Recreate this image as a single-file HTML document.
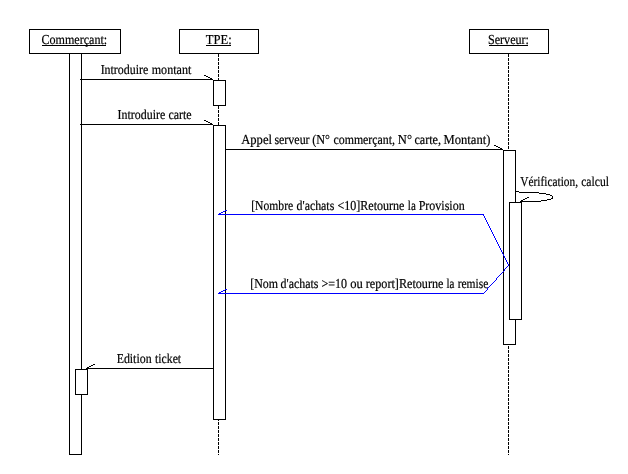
<!DOCTYPE html>
<html lang="fr">
<head>
<meta charset="utf-8">
<title>Diagramme de séquence</title>
<style>
html,body{margin:0;padding:0;background:#fff;}
body{width:628px;height:474px;overflow:hidden;}
svg{display:block;}
text{font-family:"Liberation Serif","Times New Roman",serif;font-size:13.7px;text-rendering:geometricPrecision;fill:#000;stroke:#000;stroke-width:0.2px;}
.k{stroke:#000;stroke-width:1;fill:none;}
.w{stroke:#000;stroke-width:1;fill:#fff;}
.b{stroke:#00f;stroke-width:1;fill:none;}
.d{stroke:#000;stroke-width:1;stroke-dasharray:3 1;fill:none;}
</style>
</head>
<body>
<svg width="628" height="474" viewBox="0 0 628 474">
<rect x="0" y="0" width="628" height="474" fill="#fff"/>
<g shape-rendering="crispEdges">
<!-- lifelines -->
<line class="d" x1="218.5" y1="54" x2="218.5" y2="455"/>
<line class="d" x1="508.5" y1="54" x2="508.5" y2="455"/>
<!-- head boxes -->
<rect class="w" x="29.5" y="29.5" width="91" height="24"/>
<rect class="w" x="179.5" y="29.5" width="79" height="24"/>
<rect class="w" x="469.5" y="29.5" width="79" height="24"/>
<!-- activations -->
<rect class="w" x="69.5" y="53.5" width="12" height="401"/>
<rect class="w" x="75.5" y="369.5" width="12" height="25"/>
<rect class="w" x="213.5" y="80.5" width="12" height="25"/>
<rect class="w" x="213.5" y="125.5" width="12" height="294"/>
<path class="k" d="M515 191.5h4M519 192.5h20M539 193.5h7M546 194.5h4M550 195.5h2M552 196.5h1M552 197.5h1M551 198.5h2M547 199.5h4M541 200.5h6M520 201.5h21"/>
<rect class="w" x="503.5" y="150.5" width="12" height="194"/>
<rect class="w" x="509.5" y="202.5" width="12" height="117"/>
<!-- messages -->
<line class="k" x1="80" y1="79.5" x2="213" y2="79.5"/>
<path class="k" d="M204 75.5h2M206 76.5h2M208 77.5h2M210 78.5h2"/>
<line class="k" x1="80" y1="124.5" x2="213" y2="124.5"/>
<path class="k" d="M204 120.5h2M206 121.5h2M208 122.5h2M210 123.5h2"/>
<line class="k" x1="225" y1="149.5" x2="503" y2="149.5"/>
<path class="k" d="M494 145.5h2M496 146.5h2M498 147.5h2M500 148.5h2"/>
<line class="k" x1="86" y1="368.5" x2="214" y2="368.5"/>
<path class="k" d="M87 367.5h2M89 366.5h2M91 365.5h2M93 364.5h2"/>
<!-- self loop -->
<path class="k" d="M521 200.5h2M523 199.5h2M525 198.5h2M527 197.5h2"/>
<!-- blue returns -->
<path class="b" d="M218 214.5H484M483.5 214v2M484.5 216v2M485.5 218v2M486.5 220v2M487.5 222v2M488.5 224v2M489.5 226v2M490.5 228v2M491.5 230v2M492.5 232v2M493.5 234v2M494.5 236v2M495.5 238v2M496.5 240v2M497.5 242v2M498.5 244v2M499.5 246v2M500.5 248v2M501.5 250v2M502.5 252v2M503.5 254v2M504.5 256v2M505.5 258v2M506.5 260v2M507.5 262v2M508.5 264v2"/>
<path class="b" d="M219 213.5h2M221 212.5h2M223 211.5h2M225 210.5h2"/>
<path class="b" d="M218 293.5H484M508.5 265v1M507.5 266v1M506.5 267v1M505.5 268v1M504.5 269v2M503.5 271v1M502.5 272v1M501.5 273v1M500.5 274v1M499.5 275v1M498.5 276v1M497.5 277v1M496.5 278v2M495.5 280v1M494.5 281v1M493.5 282v1M492.5 283v1M491.5 284v1M490.5 285v1M489.5 286v1M488.5 287v1M487.5 288v2M486.5 290v1M485.5 291v1M484.5 292v1M483.5 293v1"/>
<path class="b" d="M219 292.5h2M221 291.5h2M223 290.5h2M225 289.5h2"/>
</g>
<!-- labels -->
<g id="labels" style="filter:grayscale(1)">
<text x="41.47" y="44" textLength="65.76" lengthAdjust="spacingAndGlyphs">Commerçant:</text>
<text x="205.79" y="44" textLength="25.91" lengthAdjust="spacingAndGlyphs">TPE:</text>
<text x="488.01" y="44" textLength="40.98" lengthAdjust="spacingAndGlyphs">Serveur:</text>
<text x="100.67" y="74" textLength="47.55" lengthAdjust="spacingAndGlyphs">Introduire</text>
<text x="151.74" y="74" textLength="39.55" lengthAdjust="spacingAndGlyphs">montant</text>
<text x="117.57" y="119" textLength="47.65" lengthAdjust="spacingAndGlyphs">Introduire</text>
<text x="168.46" y="119" textLength="23.18" lengthAdjust="spacingAndGlyphs">carte</text>
<text x="241.18" y="144" textLength="30.80" lengthAdjust="spacingAndGlyphs">Appel</text>
<text x="274.38" y="144" textLength="35.23" lengthAdjust="spacingAndGlyphs">serveur</text>
<text x="312.27" y="144" textLength="17.70" lengthAdjust="spacingAndGlyphs">(N°</text>
<text x="333.47" y="144" textLength="61.55" lengthAdjust="spacingAndGlyphs">commerçant,</text>
<text x="397.80" y="144" textLength="14.14" lengthAdjust="spacingAndGlyphs">N°</text>
<text x="414.46" y="144" textLength="26.58" lengthAdjust="spacingAndGlyphs">carte,</text>
<text x="443.53" y="144" textLength="46.91" lengthAdjust="spacingAndGlyphs">Montant)</text>
<text x="520.33" y="186" textLength="57.72" lengthAdjust="spacingAndGlyphs">Vérification,</text>
<text x="581.18" y="186" textLength="27.78" lengthAdjust="spacingAndGlyphs">calcul</text>
<text x="251.25" y="210" textLength="41.93" lengthAdjust="spacingAndGlyphs">[Nombre</text>
<text x="296.57" y="210" textLength="37.72" lengthAdjust="spacingAndGlyphs">d'achats</text>
<text x="337.48" y="210" textLength="66.96" lengthAdjust="spacingAndGlyphs">&lt;10]Retourne</text>
<text x="407.85" y="210" textLength="7.91" lengthAdjust="spacingAndGlyphs">la</text>
<text x="418.65" y="210" textLength="46.05" lengthAdjust="spacingAndGlyphs">Provision</text>
<text x="250.23" y="288" textLength="27.80" lengthAdjust="spacingAndGlyphs">[Nom</text>
<text x="280.57" y="288" textLength="37.82" lengthAdjust="spacingAndGlyphs">d'achats</text>
<text x="321.49" y="288" textLength="25.60" lengthAdjust="spacingAndGlyphs">&gt;=10</text>
<text x="350.26" y="288" textLength="12.60" lengthAdjust="spacingAndGlyphs">ou</text>
<text x="365.83" y="288" textLength="77.60" lengthAdjust="spacingAndGlyphs">report]Retourne</text>
<text x="446.55" y="288" textLength="7.91" lengthAdjust="spacingAndGlyphs">la</text>
<text x="457.65" y="288" textLength="30.69" lengthAdjust="spacingAndGlyphs">remise</text>
<text x="116.65" y="363" textLength="34.95" lengthAdjust="spacingAndGlyphs">Edition</text>
<text x="155.11" y="363" textLength="26.01" lengthAdjust="spacingAndGlyphs">ticket</text>
</g>
<g shape-rendering="crispEdges">
<line class="k" x1="42" y1="45.5" x2="106" y2="45.5"/>
<line class="k" x1="206" y1="45.5" x2="231" y2="45.5"/>
<line class="k" x1="489" y1="45.5" x2="528" y2="45.5"/>
</g>
</svg>
</body>
</html>
